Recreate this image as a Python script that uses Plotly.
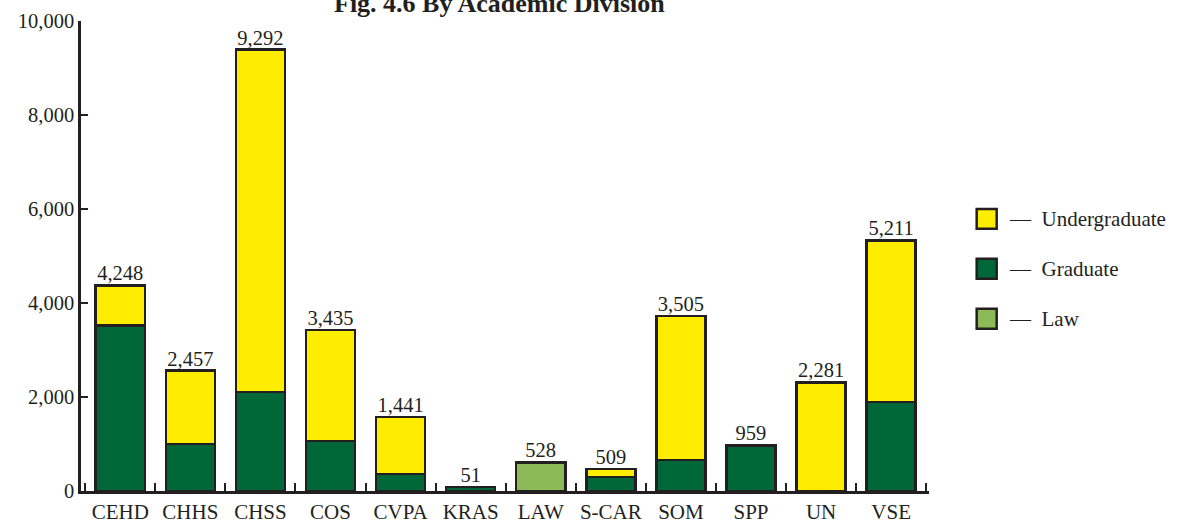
import plotly.graph_objects as go

# Enrollment by academic division (bar heights)
divisions = ['CEHD', 'CHHS', 'CHSS', 'COS', 'CVPA', 'KRAS', 'LAW', 'S-CAR', 'SOM', 'SPP', 'UN', 'VSE']
graduate = [3520, 1000, 2110, 1060, 360, 80, 0, 300, 660, 970, 0, 1890]
undergraduate = [850, 1560, 7280, 2370, 1210, 0, 0, 170, 3060, 0, 2310, 3440]
law = [0, 0, 0, 0, 0, 0, 610, 0, 0, 0, 0, 0]
total_labels = ['4,248', '2,457', '9,292', '3,435', '1,441', '51', '528', '509', '3,505', '959', '2,281', '5,211']

INK = '#231f20'
YELLOW = '#ffed00'
DARK_GREEN = '#006838'
LIGHT_GREEN = '#8cba57'
FONT = 'Liberation Serif'

fig = go.Figure()
for name, vals, col in [('Graduate', graduate, DARK_GREEN),
                        ('Undergraduate', undergraduate, YELLOW),
                        ('Law', law, LIGHT_GREEN)]:
    fig.add_trace(go.Bar(x=divisions, y=vals, name=name, width=0.7,
                         marker=dict(color=col, line=dict(color=INK, width=2.5)),
                         showlegend=False))

# total labels above the stacks
tops = [g + u + l for g, u, l in zip(graduate, undergraduate, law)]
fig.add_trace(go.Scatter(x=divisions, y=tops, mode='text', text=total_labels,
                         textposition='top center', cliponaxis=False,
                         textfont=dict(family=FONT, size=20.5, color=INK),
                         showlegend=False, hoverinfo='skip'))

fig.update_layout(
    barmode='stack',
    width=1183, height=523,
    margin=dict(l=81, r=254, t=21, b=32),
    paper_bgcolor='white', plot_bgcolor='white',
    font=dict(family=FONT, color=INK),
    xaxis=dict(range=[-0.56, 11.54], showline=True, linewidth=2.5, linecolor=INK,
               ticks='inside', tickson='boundaries', ticklen=8, tickwidth=2, tickcolor=INK,
               tickangle=0, tickfont=dict(size=21, color=INK), showgrid=False, zeroline=False,
               automargin=False),
    yaxis=dict(range=[0, 10000], tickvals=[0, 2000, 4000, 6000, 8000, 10000],
               tickformat=',d', showline=True, linewidth=2.5, linecolor=INK,
               ticks='inside', ticklen=7, tickwidth=2, tickcolor=INK,
               tickfont=dict(size=20.5, color=INK), showgrid=False, zeroline=False,
               automargin=False),
)

# title, partly cut off at the top edge as in the source
fig.add_annotation(text='<b>Fig. 4.6 By Academic Division</b>', xref='paper', yref='paper',
                   x=(500 - 81) / 848.3, y=(491 - 3) / 470.3, xanchor='center', yanchor='middle',
                   showarrow=False, font=dict(family=FONT, size=26, color=INK))

# hand-built legend
legend_items = [('Undergraduate', YELLOW), ('Graduate', DARK_GREEN), ('Law', LIGHT_GREEN)]
plot_w, plot_h = 848.3, 470.3
for i, (lbl, col) in enumerate(legend_items):
    cy = 218.7 + 50 * i
    fig.add_shape(type='rect', xref='paper', yref='paper',
                  x0=(977 - 81) / plot_w, x1=(997 - 81) / plot_w,
                  y0=(491 - (cy - 10)) / plot_h, y1=(491 - (cy + 10)) / plot_h,
                  fillcolor=col, line=dict(color=INK, width=2.5))
    fig.add_annotation(text='\u2014  ' + lbl, xref='paper', yref='paper',
                       x=(1007 - 81) / plot_w, y=(491 - cy) / plot_h,
                       xanchor='left', yanchor='middle', showarrow=False,
                       font=dict(family=FONT, size=21, color=INK))

fig.write_html('out.html', config={'displayModeBar': False},
               post_script="document.body.style.margin='0';")
